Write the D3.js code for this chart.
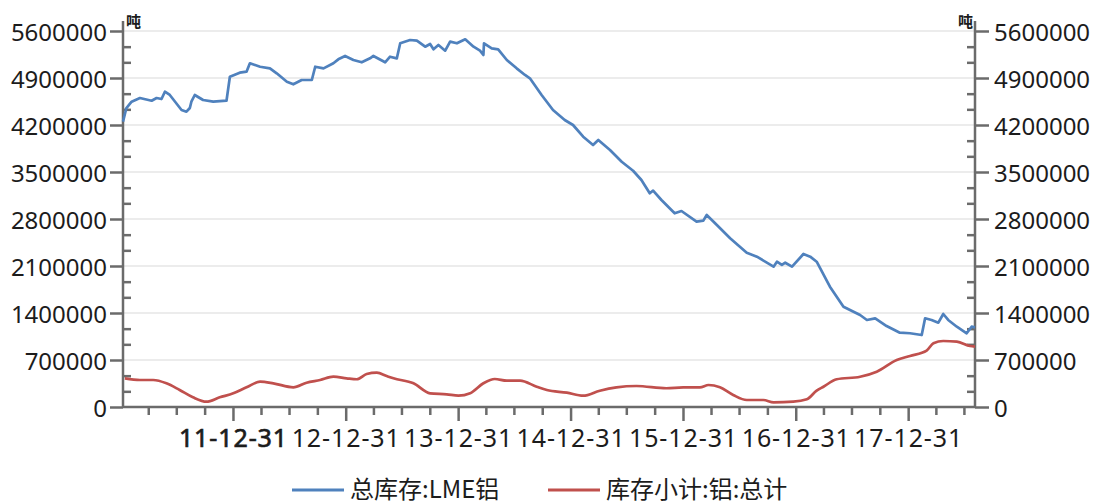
<!DOCTYPE html>
<html>
<head>
<meta charset="utf-8">
<script src="https://cdn.jsdelivr.net/npm/d3@7"></script>
<style>
  html, body { margin: 0; padding: 0; background: #fff; }
  svg { display: block; }
  .axis text { font-family: "Noto Sans", "Noto Sans CJK SC", sans-serif; font-size: 24px; fill: #1c1c1c; }
  .x-axis text { font-size: 25px; letter-spacing: 0.9px; }
  .legend text, .unit { font-family: "Noto Sans CJK SC", "Noto Sans", sans-serif; fill: #1c1c1c; }
</style>
</head>
<body>
<svg id="chart" width="1101" height="504"></svg>
<script>
// LME aluminium total stock (blue) and aluminium stock subtotal (red), tonnes
var lmeDates = [
  "2011-01-08", "2011-01-19", "2011-02-05", "2011-03-04", "2011-04-11", "2011-04-27",
  "2011-05-13", "2011-05-24", "2011-06-09", "2011-07-17", "2011-08-02", "2011-08-13",
  "2011-08-18", "2011-08-29", "2011-09-25", "2011-10-28", "2011-12-10", "2011-12-21",
  "2012-01-22", "2012-02-13", "2012-02-24", "2012-03-28", "2012-04-29", "2012-05-21",
  "2012-06-23", "2012-07-14", "2012-08-10", "2012-09-12", "2012-09-23", "2012-10-20",
  "2012-11-21", "2012-12-07", "2012-12-29", "2013-01-25", "2013-02-21", "2013-03-20",
  "2013-03-31", "2013-05-08", "2013-05-24", "2013-06-15", "2013-06-26", "2013-07-28",
  "2013-08-19", "2013-09-15", "2013-10-01", "2013-10-12", "2013-10-28", "2013-11-19",
  "2013-12-05", "2013-12-27", "2014-01-23", "2014-02-19", "2014-03-12", "2014-03-23",
  "2014-03-25", "2014-04-19", "2014-05-10", "2014-06-07", "2014-07-09", "2014-08-05",
  "2014-08-21", "2014-09-28", "2014-11-04", "2014-12-12", "2015-01-08", "2015-02-10",
  "2015-03-14", "2015-03-31", "2015-05-08", "2015-06-15", "2015-07-22", "2015-08-18",
  "2015-09-14", "2015-09-25", "2015-10-22", "2015-12-04", "2015-12-26", "2016-02-13",
  "2016-03-06", "2016-03-17", "2016-04-19", "2016-06-01", "2016-07-25", "2016-08-27",
  "2016-10-20", "2016-10-31", "2016-11-16", "2016-11-27", "2016-12-19", "2017-01-25",
  "2017-02-16", "2017-03-09", "2017-04-21", "2017-06-04", "2017-07-28", "2017-08-19",
  "2017-09-15", "2017-10-22", "2017-12-04", "2018-01-06", "2018-02-13", "2018-02-24",
  "2018-03-17", "2018-04-08", "2018-04-24", "2018-05-10", "2018-06-07", "2018-07-09",
  "2018-07-25", "2018-08-05"
];
var lmeValues = [
  4250000, 4453000, 4547000, 4602000, 4562000, 4602000,
  4587000, 4696000, 4647000, 4423000, 4398000, 4453000,
  4547000, 4647000, 4572000, 4547000, 4562000, 4919000,
  4979000, 4994000, 5119000, 5068000, 5044000, 4970000,
  4845000, 4806000, 4870000, 4870000, 5068000, 5044000,
  5119000, 5178000, 5228000, 5168000, 5134000, 5193000,
  5228000, 5134000, 5217000, 5193000, 5417000, 5466000,
  5456000, 5366000, 5406000, 5327000, 5392000, 5307000,
  5441000, 5417000, 5476000, 5366000, 5307000, 5243000,
  5417000, 5342000, 5327000, 5168000, 5044000, 4945000,
  4895000, 4647000, 4423000, 4274000, 4200000, 4026000,
  3902000, 3977000, 3828000, 3653000, 3519000, 3381000,
  3183000, 3222000, 3083000, 2885000, 2919000, 2760000,
  2775000, 2860000, 2711000, 2513000, 2298000, 2239000,
  2090000, 2164000, 2115000, 2149000, 2090000, 2279000,
  2239000, 2164000, 1792000, 1494000, 1370000, 1296000,
  1321000, 1206000, 1107000, 1098000, 1072000, 1321000,
  1296000, 1256000, 1385000, 1296000, 1196000, 1098000,
  1196000, 1187000
];

var subDates = [
  "2011-01-14", "2011-03-04", "2011-04-16", "2011-05-29", "2011-07-11", "2011-08-23",
  "2011-10-06", "2011-11-18", "2012-01-01", "2012-02-13", "2012-03-28", "2012-05-10",
  "2012-07-14", "2012-08-26", "2012-10-09", "2012-11-21", "2013-01-03", "2013-02-05",
  "2013-03-09", "2013-04-11", "2013-05-13", "2013-06-04", "2013-08-08", "2013-10-01",
  "2013-11-24", "2014-01-01", "2014-02-08", "2014-03-23", "2014-04-29", "2014-06-07",
  "2014-07-20", "2014-09-12", "2014-10-15", "2014-12-19", "2015-02-10", "2015-04-05",
  "2015-05-29", "2015-08-02", "2015-11-07", "2016-01-01", "2016-02-24", "2016-03-23",
  "2016-04-29", "2016-06-11", "2016-07-25", "2016-09-17", "2016-10-20", "2016-12-23",
  "2017-02-05", "2017-03-09", "2017-03-31", "2017-05-13", "2017-07-28", "2017-09-20",
  "2017-11-24", "2018-01-06", "2018-03-01", "2018-03-23", "2018-04-24", "2018-06-07",
  "2018-07-20", "2018-08-05"
];
var subValues = [
  427000, 402000, 402000, 353000, 253000, 144000,
  79000, 144000, 204000, 293000, 377000, 353000,
  293000, 362000, 402000, 451000, 427000, 413000,
  491000, 511000, 462000, 427000, 353000, 204000,
  189000, 168000, 204000, 353000, 417000, 392000,
  392000, 302000, 253000, 213000, 168000, 243000,
  293000, 313000, 279000, 293000, 293000, 328000,
  293000, 179000, 104000, 104000, 70000, 79000,
  115000, 243000, 302000, 413000, 451000, 526000,
  700000, 760000, 839000, 949000, 983000, 973000,
  909000, 898000
];

var yTickValues = [0, 700000, 1400000, 2100000, 2800000, 3500000, 4200000, 4900000, 5600000];
var xMajorTicks = ["2011-12-31", "2012-12-31", "2013-12-31", "2014-12-31", "2015-12-31", "2016-12-31", "2017-12-31"];
var xMinorMonths = ["03-31", "06-30", "09-30"];
var seriesNames = ["总库存:LME铝", "库存小计:铝:总计"];
var unitLabel = "吨";

var parse = d3.timeParse("%Y-%m-%d");
var plot = { left: 123, right: 975, top: 31, bottom: 407 };
var axisColor = "#6b6b6b";
var colors = ["#4f81bd", "#c0504d"];

var svg = d3.select("#chart");

var x = d3.scaleTime()
  .domain([parse(lmeDates[0]), parse(lmeDates[lmeDates.length - 1])])
  .range([plot.left, plot.right]);
var y = d3.scaleLinear()
  .domain([0, 5600000])
  .range([plot.bottom, plot.top]);

// minor ticks: 2 between each major on y, quarter ends on x
var yMinor = [];
yTickValues.slice(1).forEach(function(v) {
  yMinor.push(v - 700000 / 3, v - 1400000 / 3);
});
var xMinor = [];
d3.range(2011, 2019).forEach(function(yr) {
  xMinorMonths.forEach(function(md) {
    var d = parse(yr + "-" + md);
    if (d >= x.domain()[0] && d <= x.domain()[1]) xMinor.push(d);
  });
});

// gridlines
svg.append("g").selectAll("line")
  .data(yTickValues.slice(1))
  .enter().append("line")
  .attr("x1", plot.left).attr("x2", plot.right)
  .attr("y1", y).attr("y2", y)
  .attr("stroke", "#e6e6e6")
  .attr("stroke-width", 1.5);

function styleAxis(g) {
  g.select(".domain").remove();
  g.selectAll("line").attr("stroke", axisColor).attr("stroke-width", 2.5);
}

// left axis
svg.append("g").attr("class", "axis")
  .attr("transform", "translate(" + plot.left + ",0)")
  .call(d3.axisLeft(y).tickValues(yTickValues).tickSize(13).tickPadding(3).tickFormat(d3.format("d")))
  .call(styleAxis)
  .selectAll("text").attr("dy", "0.4em");
svg.append("g")
  .attr("transform", "translate(" + plot.left + ",0)")
  .call(d3.axisLeft(y).tickValues(yMinor).tickSize(-8).tickFormat(""))
  .call(styleAxis);

// right axis
svg.append("g").attr("class", "axis")
  .attr("transform", "translate(" + plot.right + ",0)")
  .call(d3.axisRight(y).tickValues(yTickValues).tickSize(14).tickPadding(5).tickFormat(d3.format("d")))
  .call(styleAxis)
  .selectAll("text").attr("dy", "0.4em");
svg.append("g")
  .attr("transform", "translate(" + plot.right + ",0)")
  .call(d3.axisRight(y).tickValues(yMinor).tickSize(-8).tickFormat(""))
  .call(styleAxis);

// bottom axis
var xAxisG = svg.append("g").attr("class", "axis x-axis")
  .attr("transform", "translate(0," + plot.bottom + ")")
  .call(d3.axisBottom(x).tickValues(xMajorTicks.map(parse)).tickSize(14).tickPadding(8)
    .tickFormat(d3.timeFormat("%y-%m-%d")))
  .call(styleAxis);
xAxisG.selectAll("text").attr("dy", "0.71em")
  .attr("stroke", function(d, i) { return i === 0 ? "#1c1c1c" : null; })
  .attr("stroke-width", function(d, i) { return i === 0 ? 0.7 : null; });
svg.append("g")
  .attr("transform", "translate(0," + plot.bottom + ")")
  .call(d3.axisBottom(x).tickValues(xMinor).tickSize(8).tickFormat(""))
  .call(styleAxis);

// axis lines
var frame = svg.append("g").attr("stroke", axisColor).attr("stroke-width", 2.5);
frame.append("line").attr("x1", plot.left).attr("x2", plot.left).attr("y1", 21).attr("y2", plot.bottom + 1);
frame.append("line").attr("x1", plot.right).attr("x2", plot.right).attr("y1", 21).attr("y2", plot.bottom + 1);
frame.append("line").attr("x1", plot.left).attr("x2", plot.right).attr("y1", plot.bottom).attr("y2", plot.bottom);

// unit labels
svg.append("text").attr("class", "unit")
  .attr("x", plot.left + 3).attr("y", 27)
  .attr("font-size", 15).attr("font-weight", "bold")
  .text(unitLabel);
svg.append("text").attr("class", "unit")
  .attr("x", plot.right - 2).attr("y", 27)
  .attr("text-anchor", "end")
  .attr("font-size", 15).attr("font-weight", "bold")
  .text(unitLabel);

// series
var series = [
  { dates: lmeDates, values: lmeValues, curve: d3.curveLinear },
  { dates: subDates, values: subValues, curve: d3.curveMonotoneX }
];
series.forEach(function(s, i) {
  var pts = s.dates.map(function(d, j) { return [parse(d), s.values[j]]; });
  var line = d3.line()
    .x(function(p) { return x(p[0]); })
    .y(function(p) { return y(p[1]); })
    .curve(s.curve);
  svg.append("path")
    .datum(pts)
    .attr("d", line)
    .attr("fill", "none")
    .attr("stroke", colors[i])
    .attr("stroke-width", 2.7)
    .attr("stroke-linejoin", "round");
});

// legend
var legendPos = [292, 548];
var legend = svg.append("g").attr("class", "legend");
seriesNames.forEach(function(name, i) {
  var g = legend.append("g").attr("transform", "translate(" + legendPos[i] + ",490)");
  g.append("line").attr("x1", 0).attr("x2", 52).attr("stroke", colors[i]).attr("stroke-width", 3);
  g.append("text").attr("x", 58).attr("y", 8).attr("font-size", 24).text(name);
});
</script>
</body>
</html>
